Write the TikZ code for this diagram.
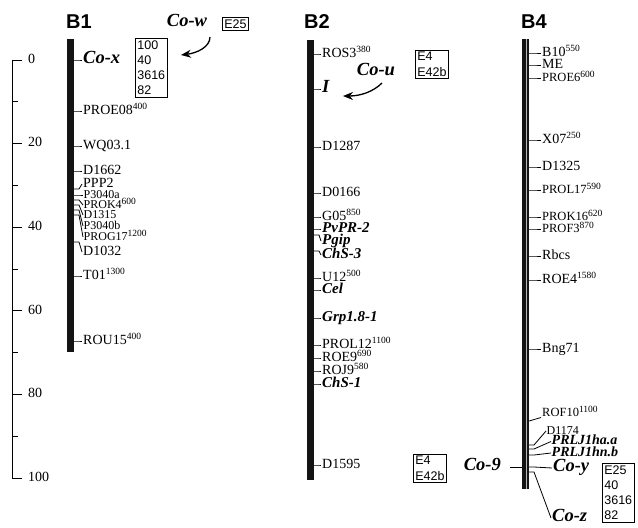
\documentclass[tikz,border=0pt]{standalone}
\usepackage{fontspec}
\setmainfont{Liberation Serif}
\setsansfont{Liberation Sans}
\usetikzlibrary{arrows.meta}
\newcommand\sps[1]{\raisebox{0.33em}{\fontsize{9.5}{9.5}\selectfont #1}}
% name, style, barx, ticky, labx, laby, text
\newcommand\mk[7]{%
  \node[#2,anchor=west] (#1) at (#5,#6) {#7};
  \draw[tk] (#3,#4) -- (#3+5,#4) -- (#1.west);}
\begin{document}
\begin{tikzpicture}[x=1pt,y=-1pt,
  lbl/.style={inner sep=1pt,text height=0.66em,text depth=0pt,font=\fontsize{14}{14}\selectfont},
  slbl/.style={inner sep=1pt,text height=0.66em,text depth=0pt,font=\fontsize{12.5}{12.5}\selectfont},
  clbl/.style={inner sep=0.5pt,text height=0.66em,text depth=0pt,font=\fontsize{12}{12}\selectfont},
  gene/.style={inner sep=1pt,text height=0.66em,text depth=0pt,font=\fontsize{15}{15}\selectfont\bfseries\itshape},
  sgene/.style={inner sep=0.5pt,text height=0.66em,text depth=0pt,font=\fontsize{14}{14}\selectfont\bfseries\itshape},
  cogene/.style={inner sep=1pt,text height=0.66em,text depth=0pt,font=\fontsize{18.5}{18.5}\selectfont\bfseries\itshape},
  ttl/.style={inner sep=0pt,font=\fontsize{20}{20}\selectfont\sffamily\bfseries},
  abox/.style={draw,line width=0.7pt,inner sep=2pt,align=left,font=\fontsize{12.5}{15.3}\selectfont\sffamily},
  tk/.style={line width=0.8pt},
  bar/.style={fill=black!92,draw=none},
  curvarrow/.style={line width=1.3pt,-{Stealth[length=10pt,width=8pt]}}
]
\useasboundingbox (0,0) rectangle (638,528);

% scale bar
\draw[tk] (22,60) -- (12,60) -- (12,478) -- (22,478);
\foreach \v in {20,40,60,80} \draw[tk] (12,{60+4.18*\v}) -- (22,{60+4.18*\v});
\foreach \v in {10,30,50,70,90} \draw[tk] (12,{60+4.18*\v}) -- (18,{60+4.18*\v});
\foreach \v in {0,20,40,60,80,100} \node[lbl,anchor=west] (s\v) at (27,{60+4.18*\v}) {\v};

% bars
\fill[bar] (67,39) rectangle (74,352);
\fill[bar] (307,40) rectangle (314,480);
\fill[bar] (522,39) rectangle (529,489);
\draw[gray!55,line width=0.9pt] (526,39) -- (526,489);

% titles
\node[ttl] (tB1) at (79,22) {B1};
\node[ttl] (tB2) at (317,22) {B2};
\node[ttl] (tB4) at (534,22) {B4};

% B1
\mk{cox}{cogene}{74}{60}{82}{60}{Co-x}
\mk{proe08}{lbl}{74}{111}{82}{111}{PROE08\sps{400}}
\mk{wq}{lbl}{74}{146}{82}{146}{WQ03.1}
\mk{d1662}{lbl}{74}{171}{82}{171}{D1662}
\mk{ppp2}{lbl}{74}{189}{82}{184}{PPP2}
\mk{p3a}{clbl}{74}{195}{83}{195}{P3040a}
\mk{prok4}{clbl}{74}{200}{83}{205}{PROK4\sps{600}}
\mk{d1315}{clbl}{74}{205}{83}{215}{D1315}
\mk{p3b}{clbl}{74}{210}{83}{226}{P3040b}
\mk{prog17}{clbl}{74}{215}{83}{237}{PROG17\sps{1200}}
\mk{d1032}{lbl}{74}{242}{82}{252}{D1032}
\mk{t01}{lbl}{74}{276}{82}{276}{T01\sps{1300}}
\mk{rou15}{lbl}{74}{341}{82}{341}{ROU15\sps{400}}

\node[abox,anchor=north west] (bx1) at (135,38) {100\\40\\3616\\82};
\node[cogene] (cow) at (187,23) {Co-w};
\node[abox,anchor=north west] (e25a) at (222,17) {E25};
\coordinate (cowA) at (210,37);
\coordinate (cowB) at (181,55);
\draw[curvarrow] (cowA) .. controls (210,47) and (197,53) .. (cowB);

% B2
\mk{ros3}{lbl}{314}{54}{321}{54}{ROS3\sps{380}}
\mk{iloc}{cogene}{314}{89}{321}{89}{I}
\mk{d1287}{lbl}{314}{147}{321}{147}{D1287}
\mk{d0166}{lbl}{314}{193}{321}{193}{D0166}
\mk{g05}{lbl}{314}{217}{321}{217}{G05\sps{850}}
\mk{pvpr}{gene}{314}{229}{321}{229}{PvPR-2}
\mk{pgip}{gene}{314}{235}{321}{241}{Pgip}
\mk{chs3}{gene}{314}{251}{321}{255}{ChS-3}
\mk{u12}{lbl}{314}{278}{321}{278}{U12\sps{500}}
\mk{cel}{gene}{314}{290}{321}{290}{Cel}
\mk{grp}{gene}{314}{318}{321}{318}{Grp1.8-1}
\mk{prol12}{lbl}{314}{345}{321}{345}{PROL12\sps{1100}}
\mk{roe9}{lbl}{314}{358}{321}{358}{ROE9\sps{690}}
\mk{roj9}{lbl}{314}{371}{321}{371}{ROJ9\sps{580}}
\mk{chs1}{gene}{314}{384}{321}{384}{ChS-1}
\mk{d1595}{lbl}{314}{465}{321}{465}{D1595}

\node[cogene] (cou) at (376,72) {Co-u};
\node[abox,anchor=north west] (e4a) at (415,50) {E4\\E42b};
\coordinate (couA) at (382,83);
\coordinate (couB) at (343,96);
\draw[curvarrow] (couA) .. controls (373,92) and (360,96) .. (couB);

% B4
\mk{b10}{lbl}{529}{53}{541}{53}{B10\sps{550}}
\mk{me}{lbl}{529}{65}{541}{65}{ME}
\mk{proe6}{slbl}{529}{78}{541}{78}{PROE6\sps{600}}
\mk{x07}{lbl}{529}{140}{541}{140}{X07\sps{250}}
\mk{d1325}{lbl}{529}{167}{541}{167}{D1325}
\mk{prol17}{slbl}{529}{190}{541}{190}{PROL17\sps{590}}
\mk{prok16}{slbl}{529}{217}{541}{217}{PROK16\sps{620}}
\mk{prof3}{slbl}{529}{229}{541}{229}{PROF3\sps{870}}
\mk{rbcs}{lbl}{529}{256}{541}{256}{Rbcs}
\mk{roe4}{lbl}{529}{280}{541}{280}{ROE4\sps{1580}}
\mk{bng}{lbl}{529}{349}{541}{349}{Bng71}

\node[slbl,anchor=west] (rof10) at (541,413) {ROF10\sps{1100}};
\draw[tk] (529,421) -- (rof10.south west);
\mk{d1174}{clbl}{529}{445}{546}{431}{D1174}
\mk{prlja}{sgene}{529}{449}{551}{441.5}{PRLJ1ha.a}
\mk{prljb}{sgene}{529}{455}{551}{453}{PRLJ1hn.b}
\mk{coy}{cogene}{529}{467}{552}{468}{Co-y}
\mk{coz}{cogene}{529}{472}{551}{518}{Co-z}

\node[cogene,anchor=east] (co9) at (502,467) {Co-9};
\coordinate (co9b) at (522,467);
\draw[tk] ([xshift=8pt]co9.east) -- (co9b);
\node[abox,anchor=north west] (e4b) at (413,454) {E4\\E42b};
\node[abox,anchor=north west] (e25b) at (602,463) {E25\\40\\3616\\82};
\end{tikzpicture}
\end{document}
